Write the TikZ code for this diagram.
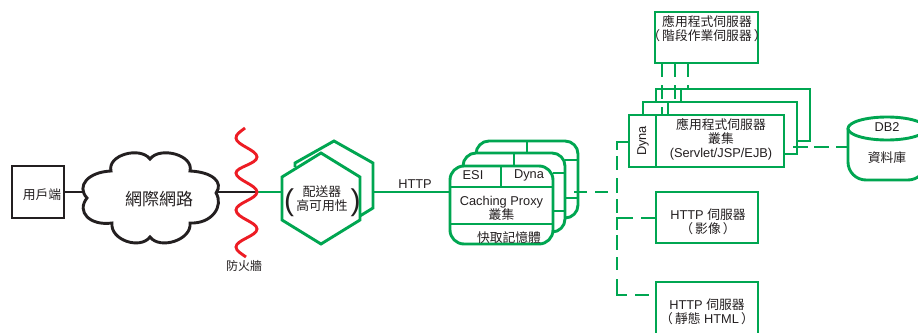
\documentclass[tikz,border=0pt]{standalone}
\usepackage{fontspec}
\setmainfont{Liberation Sans}
\newfontfamily\cjk{Noto Sans CJK TC}
\definecolor{grn}{HTML}{00A651}
\definecolor{redw}{HTML}{ED1C24}
\definecolor{ink}{HTML}{231F20}
\tikzset{
  gline/.style={draw=grn,line width=2.9pt},
  gdash/.style={draw=grn,line width=2.9pt,dash pattern=on 14pt off 8pt},
  kline/.style={draw=ink,line width=2.9pt},
  gbox/.style={draw=grn,line width=2.9pt,fill=white,rectangle,inner sep=0pt},
  txt/.style={text=ink,inner sep=0pt,align=center,font=\fontsize{12.8}{14.2}\selectfont},
  bigparen/.style={text=ink,inner sep=0pt,font=\fontsize{30}{30}\selectfont},
}
\begin{document}
\begin{tikzpicture}[x=1pt,y=-1pt]
\clip (0,0) rectangle (918,332);
\fill[white] (0,0) rectangle (918,332);
% named junctions
\coordinate (cloudW) at (84,192);
\coordinate (cloudE) at (217,192);
\coordinate (wall) at (257,192);
\coordinate (hexW) at (282,192);
\coordinate (hexE) at (373,192);
\coordinate (cacheW) at (450,192);
% client
\node[draw=ink,line width=2.9pt,rectangle,inner sep=0pt,minimum width=52pt,minimum height=52pt] (client) at (38,192) {};
\node[txt] (clientT) at (42,194.5) {\cjk 用戶端};
% links
\draw[kline] (client.east) -- (cloudW);
\draw[kline] (cloudE) -- (wall);
\draw[gline] (wall) -- (hexW);
\draw[gline] (hexE) -- (cacheW);
% cloud
\draw[kline,fill=white] (87,198)
  .. controls (76,186) and (88,172) .. (111,171)
  .. controls (107,155) and (140,146) .. (150,159)
  .. controls (160,146) and (194,155) .. (190,171)
  .. controls (212,172) and (224,182) .. (216,193)
  .. controls (224,206) and (212,224) .. (190,223)
  .. controls (192,240) and (160,250) .. (150,237)
  .. controls (140,250) and (110,240) .. (112,223)
  .. controls (90,226) and (76,212) .. (87,198) -- cycle;
\node[txt,font=\fontsize{17}{20}\selectfont] (cloudT) at (159,199) {\cjk 網際網路};
% firewall
\draw[draw=redw,line width=2.9pt] (245,128)
  .. controls (240,132) and (236,134) .. (236,138)
  .. controls (236,145) and (257,150) .. (257,157)
  .. controls (257,164) and (236,167) .. (236,173)
  .. controls (236,180) and (257,185) .. (257,192)
  .. controls (257,199) and (236,203) .. (236,210)
  .. controls (236,218) and (257,222) .. (257,229)
  .. controls (257,236) and (236,240) .. (236,247)
  .. controls (236,251) and (242,254) .. (246,257);
\node[txt,font=\fontsize{12}{14}\selectfont] (wallT) at (244,266) {\cjk 防火牆};
% dispatcher
\draw[gline,fill=white,line join=miter] (295,167) -- (295,163) -- (334,141) -- (373,163) -- (373,208) -- (355,219);
\draw[gline,fill=white] (321,153) -- (360,177) -- (360,220) -- (321,244) -- (282,220) -- (282,177) -- cycle;
\node[txt] (dispT) at (322,198.5) {\cjk 配送器\\\cjk 高可用性};
\node[bigparen] (parL) at (289,203) {(};
\node[bigparen] (parR) at (355.5,203) {)};
\node[txt] (httpT) at (415,184.5) {HTTP};
% caching proxy
\draw[gline,rounded corners=13pt] (476,153) -- (476,141) -- (578,141) -- (578,218) -- (565,218);
\draw[gline] (527,141) -- (527,153);
\draw[gline] (565,160) -- (578,160);
\draw[gline] (565,198) -- (578,198);
\draw[gline,fill=white,rounded corners=13pt] (463,166) -- (463,153) -- (565,153) -- (565,232) -- (553,232);
\draw[gline] (514,153) -- (514,166);
\draw[gline] (553,173) -- (565,173);
\draw[gline] (553,211) -- (565,211);
\node[gbox,rounded corners=14pt,minimum width=103pt,minimum height=78pt] (cache) at (501.5,205) {};
\draw[gline] (450,187) -- (553,187);
\draw[gline] (450,224) -- (553,224);
\draw[gline] (501,166) -- (501,187);
\node[txt] (esiT) at (473,175.5) {ESI};
\node[txt] (dynaT) at (529,175.5) {Dyna};
\node[txt] (cacheT) at (501.5,208.5) {Caching Proxy\\\cjk 叢集};
\node[txt] (memT) at (509,237.5) {\cjk 快取記憶體};
% dashed from cache
\coordinate (busTop) at (617,142);
\coordinate (bus1) at (617,218);
\coordinate (bus2) at (617,295);
\coordinate (cacheOut) at (574,192);
\coordinate (busIn) at (608,192);
\draw[gdash,dash pattern=on 13pt off 8pt] (cacheOut) -- (busIn);
% app servers
\node[gbox,minimum width=154pt,minimum height=52pt] (app3) at (733,115) {};
\node[gbox,minimum width=154pt,minimum height=52pt] (app2) at (720,128) {};
\draw[gline] (681,89) -- (681,102);
\node[gbox,minimum width=155pt,minimum height=52pt] (app1) at (706.5,141) {};
\draw[gline] (668,102) -- (668,115);
\draw[gline] (656,115) -- (656,167);
\node[txt,rotate=90] (appDyna) at (643,141) {Dyna};
\node[txt] (appT) at (721,139.5) {\cjk 應用程式伺服器\\\cjk 叢集\\(Servlet/JSP/EJB)};
% session box
\node[gbox,minimum width=103pt,minimum height=51pt] (sess) at (706.5,37.5) {};
\node[txt] (sessT) at (707,29) {\cjk 應用程式伺服器\\\cjk （\kern2pt 階段作業伺服器\kern2pt ）};
\coordinate (s1) at (662,63);
\coordinate (s2) at (675,63);
\coordinate (s3) at (688,63);
\draw[gdash] (s1) -- (662,115);
\draw[gdash] (s2) -- (675,102);
\draw[gdash] (s3) -- (688,89);
% http servers
\node[gbox,minimum width=102pt,minimum height=51pt] (img) at (707,217.5) {};
\node[txt] (imgT) at (708,221.5) {HTTP {\cjk 伺服器}\\\cjk （\kern2pt 影像\kern2pt ）};
\node[gbox,minimum width=102pt,minimum height=60pt] (html) at (707,312) {};
\node[txt] (htmlT) at (707,312) {HTTP {\cjk 伺服器}\\{\cjk （\kern2pt 靜態} HTML{\cjk \kern2pt ）}};
% bus
\draw[gline,dash pattern=on 19pt off 6pt on 14pt off 8pt on 15pt off 6pt on 14pt off 20pt] (app1.west |- busTop) -- (busTop) -- (bus1);
\draw[gline,dash pattern=on 14pt off 8pt on 28pt off 5pt on 15pt off 7pt on 13pt off 9pt on 26pt off 8pt on 14pt off 20pt] (img.west |- bus1) -- (bus1) -- (bus2) -- (html.west |- bus2);
% database
\coordinate (dbW) at (848,147);
\draw[gdash,dash pattern=on 15pt off 6pt on 15pt off 7pt on 15pt off 20pt] (793,147) -- (dbW);
\draw[gline,fill=white,rounded corners=18pt] (848,128.5) -- (848,180) -- (926,180) -- (926,128.5);
\draw[gline,fill=white] (887,128.5) ellipse [x radius=39,y radius=11.5];
\node[txt] (dbT) at (887,127.5) {DB2};
\node[txt] (dbL) at (887,157.5) {\cjk 資料庫};
\end{tikzpicture}
\end{document}
